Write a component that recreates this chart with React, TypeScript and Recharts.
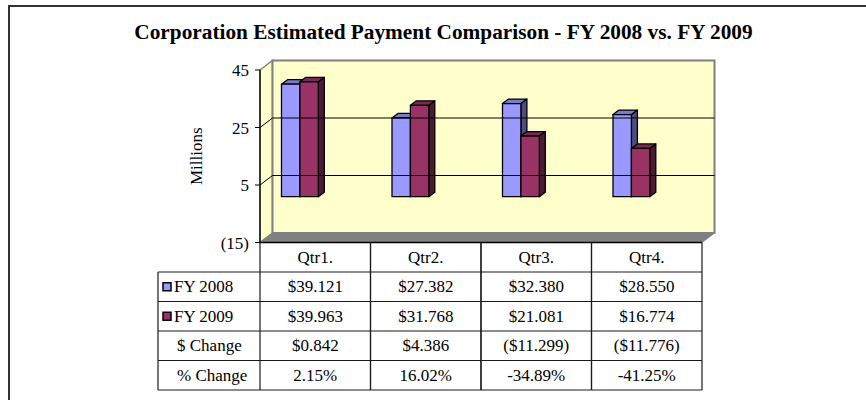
import React from 'react';
import { BarChart, Bar, XAxis, YAxis, ReferenceArea, ReferenceLine } from 'recharts';

// ---- data ----
const quarters = ['Qtr1.', 'Qtr2.', 'Qtr3.', 'Qtr4.'];
const fy2008 = [39.121, 27.382, 32.38, 28.55];
const fy2009 = [39.963, 31.768, 21.081, 16.774];
const dollarChange = ['$0.842', '$4.386', '($11.299)', '($11.776)'];
const pctChange = ['2.15%', '16.02%', '-34.89%', '-41.25%'];
const yTicks = [-15, 5, 25, 45];
const gridValues = [5, 25];
const seriesNames = ['FY 2008', 'FY 2009'];
const seriesColors = ['#9999FF', '#993366'];
const title = 'Corporation Estimated Payment Comparison - FY 2008 vs. FY 2009';

const data = quarters.map((q, i) => ({ q, fy2008: fy2008[i], fy2009: fy2009[i] }));

// ---- layout ----
const W = 866;
const H = 400;
const M_TOP = 70;
const M_RIGHT = 164;
const M_LEFT = 200;
const Y_AXIS_W = 60;
const X_AXIS_H = 157.5;
const PLOT_W = W - M_LEFT - Y_AXIS_W - M_RIGHT;
const DEPTH_X = 12.5;
const DEPTH_Y = -9.5;
const BAR_DX = 6;
const BAR_DY = -4.5;
const BAR_SHIFT_X = -15.5;
const BAR_SHIFT_Y = -2.7;
const ROW_EDGES = [0, 29.5, 59, 88.5, 118, 147.5];
const LABEL_COL_W = 102;
const FONT = "'Liberation Serif', 'Times New Roman', serif";
const FS = 17;
const LINE = '#1a1a1a';

function shade(hex: string, f: number) {
  const n = parseInt(hex.slice(1), 16);
  const r = Math.round(((n >> 16) & 255) * f);
  const g = Math.round(((n >> 8) & 255) * f);
  const b = Math.round((n & 255) * f);
  return `rgb(${r},${g},${b})`;
}

function Walls(props: any) {
  const { x, y, width, height } = props;
  const dx = DEPTH_X;
  const dy = DEPTH_Y;
  return (
    <g>
      <polygon
        points={`${x},${y} ${x + dx},${y + dy} ${x + dx},${y + height + dy} ${x},${y + height}`}
        fill="#FFFFCC"
        stroke="#808080"
        strokeWidth={1.5}
      />
      <rect x={x + dx} y={y + dy} width={width} height={height} fill="#FFFFCC" stroke="#808080" strokeWidth={2} />
      <polygon
        points={`${x},${y + height} ${x + dx},${y + height + dy} ${x + width + dx},${y + height + dy} ${x + width},${y + height}`}
        fill="#808080"
        stroke="#808080"
        strokeWidth={1}
      />
    </g>
  );
}

function GridLine(props: any) {
  const { x1, y1, x2 } = props;
  if (x1 == null || y1 == null) return null;
  const dx = DEPTH_X;
  const dy = DEPTH_Y;
  return (
    <polyline
      points={`${x1},${y1} ${x1 + dx},${y1 + dy} ${x2 + dx},${y1 + dy}`}
      fill="none"
      stroke="#000"
      strokeWidth={1}
    />
  );
}

function Bar3D(props: any) {
  const { x, y, width, height, fill } = props;
  if (x == null || height == null) return null;
  const bx = x + BAR_SHIFT_X;
  const by = y + BAR_SHIFT_Y;
  const w = width;
  const h = height;
  const d = BAR_DX;
  const e = BAR_DY;
  return (
    <g stroke="#000" strokeWidth={1.3} strokeLinejoin="round">
      <polygon points={`${bx + w},${by} ${bx + w + d},${by + e} ${bx + w + d},${by + h + e} ${bx + w},${by + h}`} fill={shade(fill, 0.5)} />
      <polygon points={`${bx},${by} ${bx + d},${by + e} ${bx + w + d},${by + e} ${bx + w},${by}`} fill={shade(fill, 0.8)} />
      <rect x={bx} y={by} width={w} height={h} fill={fill} />
    </g>
  );
}

function TableTick(props: any) {
  const { x, y, index } = props;
  const bw = PLOT_W / quarters.length;
  const left = x - bw / 2;
  const right = x + bw / 2;
  const cells = [
    quarters[index],
    `$${fy2008[index].toFixed(3)}`,
    `$${fy2009[index].toFixed(3)}`,
    dollarChange[index],
    pctChange[index],
  ];
  const top = y;
  const bottom = y + ROW_EDGES[ROW_EDGES.length - 1];
  const labelLeft = left - LABEL_COL_W;
  const rowLabels = [seriesNames[0], seriesNames[1], '$ Change', '% Change'];
  return (
    <g>
      {cells.map((c, i) => (
        <text
          key={i}
          x={x}
          y={y + (ROW_EDGES[i] + ROW_EDGES[i + 1]) / 2 + 5.5}
          textAnchor="middle"
          fontFamily={FONT}
          fontSize={FS}
          fill="#000"
        >
          {c}
        </text>
      ))}
      {ROW_EDGES.slice(1).map((r, i) => (
        <line key={'h' + i} x1={left} x2={right} y1={y + r} y2={y + r} stroke={LINE} strokeWidth={1.2} />
      ))}
      <line x1={left} x2={left} y1={top} y2={bottom} stroke={LINE} strokeWidth={1.2} />
      <line x1={right} x2={right} y1={top} y2={bottom} stroke={LINE} strokeWidth={1.2} />
      {index === 0 && (
        <g>
          {ROW_EDGES.slice(1).map((r, i) => (
            <line key={'lh' + i} x1={labelLeft} x2={left} y1={y + r} y2={y + r} stroke={LINE} strokeWidth={1.2} />
          ))}
          <line x1={labelLeft} x2={labelLeft} y1={y + ROW_EDGES[1]} y2={bottom} stroke={LINE} strokeWidth={1.2} />
          {rowLabels.map((lab, i) => {
            const cy = y + (ROW_EDGES[i + 1] + ROW_EDGES[i + 2]) / 2;
            const hasSwatch = i < 2;
            return (
              <g key={'rl' + i}>
                {hasSwatch && (
                  <rect x={labelLeft + 5} y={cy - 4} width={8} height={8} fill={seriesColors[i]} stroke="#000" strokeWidth={1.5} />
                )}
                <text
                  x={labelLeft + (hasSwatch ? 16 : 19)}
                  y={cy + 5.5}
                  fontFamily={FONT}
                  fontSize={FS}
                  fill="#000"
                >
                  {lab}
                </text>
              </g>
            );
          })}
        </g>
      )}
    </g>
  );
}

const yFmt = (v: number) => (v < 0 ? `(${-v})` : `${v}`);

export default function App() {
  return (
    <div style={{ position: 'absolute', left: 0, top: 0, width: W, height: H, overflow: 'hidden', background: '#fff' }}>
      <div
        style={{
          position: 'absolute',
          left: 8,
          top: 5,
          width: 1000,
          height: 600,
          borderLeft: '2px solid #333',
          borderTop: '2px solid #333',
        }}
      />
      <div
        style={{
          position: 'absolute',
          left: 0,
          top: 20,
          width: 887,
          textAlign: 'center',
          fontFamily: FONT,
          fontWeight: 'bold',
          fontSize: 21.3,
          lineHeight: '24px',
          color: '#000',
          whiteSpace: 'nowrap',
        }}
      >
        {title}
      </div>
      <div style={{ position: 'absolute', left: 0, top: 0 }}>
        <BarChart
          width={W}
          height={H}
          data={data}
          margin={{ top: M_TOP, right: M_RIGHT, bottom: 0, left: M_LEFT }}
          barGap={0}
        >
          <ReferenceArea y1={-15} y2={45} shape={<Walls />} ifOverflow="visible" isFront={false} />
          {gridValues.map((g) => (
            <ReferenceLine key={g} y={g} shape={(p: any) => <GridLine {...p} />} ifOverflow="visible" />
          ))}
          <XAxis
            dataKey="q"
            height={X_AXIS_H}
            axisLine={{ stroke: '#000', strokeWidth: 1.3 }}
            tickLine={false}
            tickSize={0}
            tickMargin={0}
            tick={(p: any) => <TableTick {...p} />}
            interval={0}
          />
          <YAxis
            width={Y_AXIS_W}
            domain={[-15, 45]}
            ticks={yTicks}
            tickFormatter={yFmt}
            axisLine={{ stroke: '#000', strokeWidth: 1.3 }}
            tickLine={{ stroke: '#000' }}
            tickSize={5}
            tickMargin={6}
            tick={{ fill: '#000', fontFamily: FONT, fontSize: FS }}
            label={{
              value: 'Millions',
              angle: -90,
              position: 'insideLeft',
              offset: -4,
              style: { fill: '#000', fontFamily: FONT, fontSize: FS, textAnchor: 'middle' },
            }}
          />
          <Bar dataKey="fy2008" name={seriesNames[0]} fill={seriesColors[0]} barSize={18.4} isAnimationActive={false} shape={(p: any) => <Bar3D {...p} />} />
          <Bar dataKey="fy2009" name={seriesNames[1]} fill={seriesColors[1]} barSize={18.4} isAnimationActive={false} shape={(p: any) => <Bar3D {...p} />} />
        </BarChart>
      </div>
    </div>
  );
}
